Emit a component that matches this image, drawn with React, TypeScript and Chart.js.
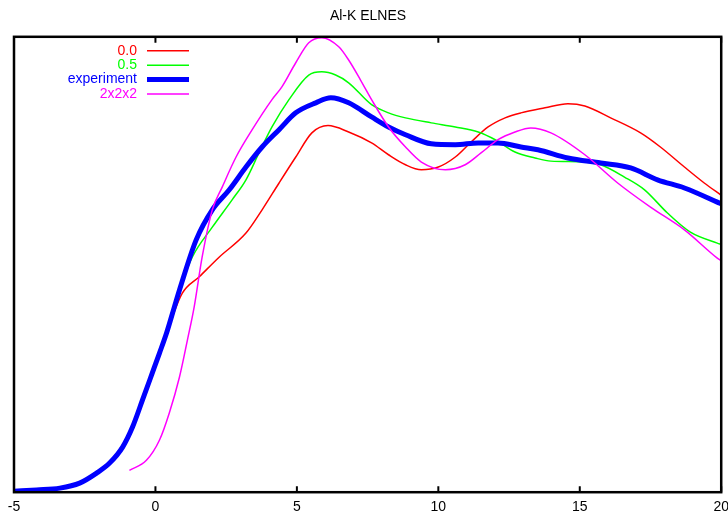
import React, { useEffect, useRef } from "react";
import { Chart, registerables } from "chart.js";

Chart.register(...registerables);

const TITLE = "Al-K ELNES";
const X_TICKS = [-5, 0, 5, 10, 15, 20];

const SERIES_LABELS = ["0.0", "0.5", "experiment", "2x2x2"];
const SERIES_COLORS = ["#ff0000", "#00ff00", "#0000ff", "#ff00ff"];
const SERIES_WIDTHS = [1.5, 1.5, 5, 1.5];

const red_x = [-2.08, -1.62, -1.16, -0.81, -0.46, -0.11, 0.25, 0.6, 0.95, 1.55, 2.25, 3.2, 3.77, 4.37, 4.96, 5.53, 6.1, 6.83, 7.64, 8.24, 8.84, 9.4, 10.0, 10.6, 11.16, 11.76, 12.36, 12.92, 13.77, 14.58, 15.18, 16.09, 17.15, 17.85, 18.7, 19.4, 20];
const red_y = [4.2, 6.3, 9.6, 13.8, 19.6, 25.6, 32.0, 38.5, 43.7, 47.3, 51.6, 56.9, 62.0, 67.9, 73.6, 78.9, 80.5, 79.1, 76.7, 74.1, 71.9, 70.8, 71.4, 73.6, 76.9, 80.2, 82.2, 83.3, 84.4, 85.3, 84.8, 82.2, 78.9, 75.8, 71.4, 67.9, 65.2];

const green_x = [-2.08, -1.62, -1.16, -0.81, -0.46, -0.11, 0.14, 0.39, 0.67, 0.85, 1.3, 2.01, 2.71, 3.2, 3.66, 4.12, 4.72, 5.42, 5.88, 6.37, 6.83, 7.64, 8.24, 8.84, 9.75, 10.6, 11.41, 12.01, 12.71, 13.42, 13.98, 15.18, 15.74, 16.58, 17.29, 18.1, 18.91, 19.86, 20];
const green_y = [4.4, 6.4, 9.9, 14.3, 20.2, 26.2, 30.5, 34.9, 40.7, 44.4, 51.6, 58.2, 64.2, 68.6, 74.5, 80.2, 86.2, 91.6, 92.3, 91.6, 89.9, 85.1, 83.3, 82.2, 81.1, 80.2, 79.1, 77.4, 74.7, 73.4, 72.7, 72.5, 71.9, 69.2, 66.4, 61.3, 57.1, 54.7, 54.4];

const exp_x = [-5, -4.2, -3.38, -2.68, -2.08, -1.62, -1.16, -0.81, -0.46, -0.11, 0.14, 0.39, 0.67, 0.85, 1.44, 2.01, 2.61, 3.2, 3.77, 4.37, 4.96, 5.67, 6.2, 6.83, 7.64, 8.24, 8.84, 9.75, 10.6, 11.41, 12.11, 12.92, 13.52, 14.58, 15.74, 16.8, 17.75, 18.7, 19.86, 20];
const exp_y = [0.2, 0.5, 0.9, 2.0, 4.2, 6.4, 9.9, 14.3, 20.2, 26.2, 30.5, 34.9, 40.7, 44.4, 55.4, 62.0, 66.4, 71.4, 75.8, 79.6, 83.3, 85.5, 86.6, 85.5, 82.4, 80.2, 78.5, 76.5, 76.3, 76.7, 76.7, 75.8, 75.2, 73.4, 72.3, 71.2, 68.6, 66.8, 63.7, 63.3];

const cell_x = [-0.92, -0.32, 0.14, 0.49, 0.85, 1.13, 1.37, 1.65, 2.01, 2.36, 2.85, 3.42, 4.12, 4.47, 4.96, 5.42, 5.88, 6.48, 6.83, 7.25, 7.64, 8.24, 8.84, 9.4, 10.25, 10.95, 11.51, 12.11, 12.71, 13.27, 13.98, 15.18, 16.34, 17.5, 18.7, 19.86, 20];
const cell_y = [4.8, 7.0, 11.4, 17.4, 25.3, 33.4, 40.7, 51.6, 62.0, 67.0, 73.6, 79.6, 86.2, 89.0, 94.3, 98.7, 99.8, 97.8, 94.9, 90.5, 86.2, 80.2, 75.8, 72.5, 70.8, 71.9, 74.5, 77.4, 79.1, 80.0, 78.9, 74.1, 67.9, 62.6, 57.6, 51.4, 50.8];

const SERIES_X = [red_x, green_x, exp_x, cell_x];
const SERIES_Y = [red_y, green_y, exp_y, cell_y];

const FONT = "'Liberation Sans', Arial, Helvetica, sans-serif";

const framePlugin = {
  id: "gnuframe",
  afterDatasetsDraw(chart: any) {
    const { ctx, chartArea: a, scales } = chart;
    ctx.save();
    ctx.strokeStyle = "#000";
    ctx.lineWidth = 2.5;
    ctx.strokeRect(a.left, a.top, a.right - a.left, a.bottom - a.top);
    ctx.lineWidth = 2;
    ctx.beginPath();
    for (const t of X_TICKS) {
      const px = scales.x.getPixelForValue(t);
      ctx.moveTo(px, a.bottom);
      ctx.lineTo(px, a.bottom - 6);
      ctx.moveTo(px, a.top);
      ctx.lineTo(px, a.top + 6);
    }
    ctx.stroke();
    ctx.font = `14px ${FONT}`;
    ctx.textAlign = "right";
    ctx.textBaseline = "middle";
    chart.data.datasets.forEach((ds: any, i: number) => {
      const y = a.top + 14 + i * 14.4;
      ctx.fillStyle = ds.borderColor;
      ctx.fillText(ds.label, a.left + 123, y);
      ctx.strokeStyle = ds.borderColor;
      ctx.lineWidth = ds.borderWidth;
      ctx.beginPath();
      ctx.moveTo(a.left + 133, y);
      ctx.lineTo(a.left + 175, y);
      ctx.stroke();
    });
    ctx.restore();
  },
};

export default function App() {
  const ref = useRef<HTMLCanvasElement | null>(null);
  useEffect(() => {
    if (!ref.current) return;
    Chart.defaults.font.family = FONT;
    const datasets = SERIES_LABELS.map((label, i) => ({
      label,
      data: SERIES_X[i].map((x, j) => ({ x, y: SERIES_Y[i][j] })),
      borderColor: SERIES_COLORS[i],
      backgroundColor: SERIES_COLORS[i],
      borderWidth: SERIES_WIDTHS[i],
      pointRadius: 0,
      fill: false,
      cubicInterpolationMode: "monotone" as const,
      order: 4 - i,
    }));
    const chart = new Chart(ref.current, {
      type: "line",
      data: { datasets },
      options: {
        animation: false,
        responsive: false,
        layout: { padding: { left: 14, right: 14, top: 0, bottom: 2 } },
        plugins: {
          legend: { display: false },
          tooltip: { enabled: false },
          title: {
            display: true,
            text: TITLE,
            color: "#000",
            font: { size: 14, weight: "normal", family: FONT },
            padding: { top: 8, bottom: 12 },
          },
        },
        scales: {
          x: {
            type: "linear",
            min: -5,
            max: 20,
            grid: { display: false, drawTicks: false },
            border: { display: false },
            ticks: {
              stepSize: 5,
              color: "#000",
              padding: 7,
              font: { size: 14, family: FONT },
            },
          },
          y: {
            type: "linear",
            min: 0,
            max: 100,
            display: false,
          },
        },
      },
      plugins: [framePlugin],
    });
    return () => chart.destroy();
  }, []);
  return (
    <div
      style={{
        position: "absolute",
        left: 0,
        top: 0,
        width: 728,
        height: 516,
        overflow: "hidden",
        background: "#fff",
      }}
    >
      <canvas ref={ref} width={736} height={525} style={{ display: "block" }} />
    </div>
  );
}
